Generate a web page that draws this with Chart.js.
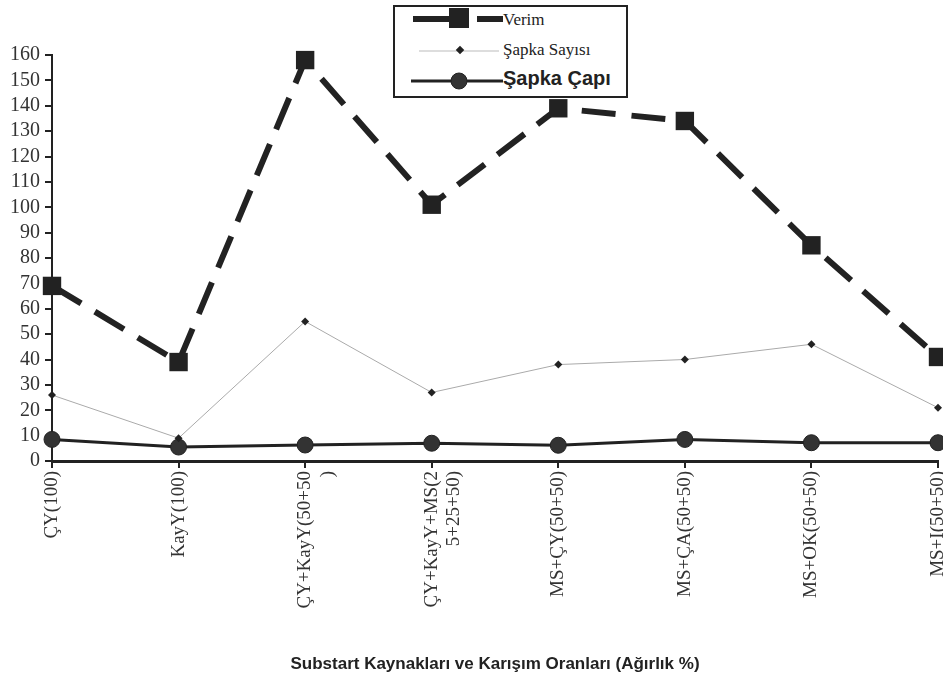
<!DOCTYPE html>
<html>
<head>
<meta charset="utf-8">
<script src="https://cdn.jsdelivr.net/npm/chart.js@4/dist/chart.umd.min.js"></script>
<style>
  html, body { margin: 0; padding: 0; background: #fff; }
  #wrap { position: relative; width: 943px; height: 677px; }
  #legend {
    position: absolute; left: 393px; top: 5px; width: 231px; height: 89px;
    border: 2px solid #222; background: #fff; color: #222;
  }
  .row { position: absolute; left: 0; height: 28px; width: 231px; }
  .row svg { position: absolute; left: 12px; top: 0; }
  .row span { position: absolute; left: 108px; white-space: nowrap; }
</style>
</head>
<body>
<div id="wrap">
  <canvas id="LineChart" width="943" height="677"></canvas>
  <div id="legend">
    <div class="row" style="top:0px">
      <svg width="96" height="28"><line x1="6" y1="12" x2="60" y2="12" stroke="#222" stroke-width="6"/><line x1="70" y1="12" x2="96" y2="12" stroke="#222" stroke-width="6"/><rect x="42" y="1" width="20" height="20" fill="#222"/></svg>
      <span style="top:3px;font:17px 'Liberation Serif'">Verim</span>
    </div>
    <div class="row" style="top:32px">
      <svg width="96" height="28"><line x1="12" y1="12" x2="92" y2="12" stroke="#bbb" stroke-width="1"/><rect x="50" y="8" width="6" height="6" fill="#222" transform="rotate(45 53 11)"/></svg>
      <span style="top:1px;font:17px 'Liberation Serif'">Şapka Sayısı</span>
    </div>
    <div class="row" style="top:60px">
      <svg width="96" height="28"><line x1="4" y1="14" x2="96" y2="14" stroke="#222" stroke-width="3"/><circle cx="52" cy="14" r="8" fill="#333" stroke="#222"/></svg>
      <span style="top:0px;font:bold 20px 'Liberation Sans'">Şapka Çapı</span>
    </div>
  </div>
</div>
<script>
var categories = ["ÇY(100)", "KayY(100)", ["ÇY+KayY(50+50", ")"], ["ÇY+KayY+MS(2", "5+25+50)"],
                  "MS+ÇY(50+50)", "MS+ÇA(50+50)", "MS+OK(50+50)", "MS+I(50+50)"];
var verim = [69, 39, 158, 101, 139, 134, 85, 41];
var sapkaSayisi = [26, 9, 55, 27, 38, 40, 46, 21];
var sapkaCapi = [8.5, 5.5, 6.3, 7, 6.2, 8.5, 7.2, 7.2];
var yTicks = { min: 0, max: 160, step: 10 };
var xTitle = "Substart Kaynakları ve Karışım Oranları (Ağırlık %)";

var ctx = document.getElementById("LineChart");
var LineChart = new Chart(ctx, {
  type: 'line',
  data: {
    labels: categories,
    datasets: [{
      label: 'Verim',
      data: verim,
      borderColor: '#222',
      backgroundColor: '#222',
      borderWidth: 6,
      borderDash: [34, 16],
      pointStyle: 'rect',
      pointRadius: 13,
      pointBackgroundColor: '#222',
      pointBorderWidth: 0,
      tension: 0,
      clip: false
    }, {
      label: 'Şapka Sayısı',
      data: sapkaSayisi,
      borderColor: '#aaa',
      borderWidth: 1,
      pointStyle: 'rectRot',
      pointRadius: 4,
      pointBackgroundColor: '#222',
      pointBorderWidth: 0,
      tension: 0,
      clip: false
    }, {
      label: 'Şapka Çapı',
      data: sapkaCapi,
      borderColor: '#222',
      borderWidth: 3,
      pointStyle: 'circle',
      pointRadius: 8,
      pointBackgroundColor: '#333',
      pointBorderColor: '#222',
      pointBorderWidth: 1,
      tension: 0,
      clip: false
    }]
  },
  options: {
    responsive: false,
    animation: false,
    layout: {
      autoPadding: false,
      padding: { left: 0, right: 5, top: 55, bottom: 0 }
    },
    plugins: {
      legend: { display: false },
      tooltip: { enabled: false }
    },
    scales: {
      x: {
        type: 'category',
        offset: false,
        grid: { drawOnChartArea: false, drawTicks: true, tickLength: 7, color: '#222', lineWidth: 2 },
        border: { display: true, color: '#222', width: 3 },
        ticks: {
          autoSkip: false,
          maxRotation: 90,
          minRotation: 90,
          padding: 3,
          color: '#333',
          font: { family: 'Liberation Serif', size: 19 }
        },
        title: {
          display: true,
          text: xTitle,
          color: '#222',
          font: { family: 'Liberation Sans', size: 17, weight: 'bold' },
          padding: { top: 0, bottom: 2 }
        },
        afterFit: function(scale) {
          scale.height = 216;
          scale.paddingLeft = 0;
          scale.paddingRight = 0;
        }
      },
      y: {
        min: yTicks.min,
        max: yTicks.max,
        grid: { drawOnChartArea: false, drawTicks: true, tickLength: 7, color: '#222', lineWidth: 2 },
        border: { display: true, color: '#222', width: 2 },
        ticks: {
          autoSkip: false,
          stepSize: yTicks.step,
          padding: 5,
          color: '#333',
          font: { family: 'Liberation Serif', size: 20 }
        },
        afterFit: function(scale) { scale.width = 52; }
      }
    }
  }
});
</script>
</body>
</html>
